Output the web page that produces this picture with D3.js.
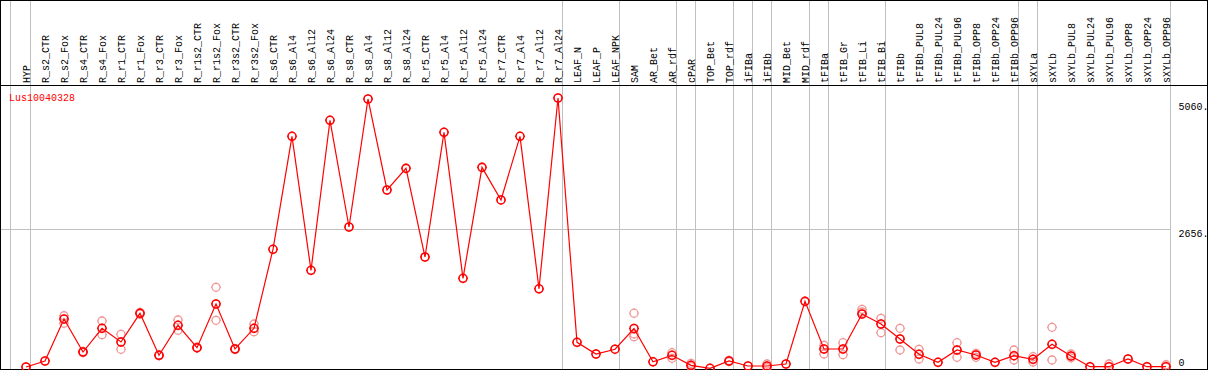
<!DOCTYPE html>
<html>
<head>
<meta charset="utf-8">
<script src="https://cdn.jsdelivr.net/npm/d3@7"></script>
<style>
  html, body { margin: 0; padding: 0; background: #fff; }
  svg { display: block; }
  text { font-family: "Liberation Mono", "DejaVu Sans Mono", monospace; font-size: 10px; }
</style>
</head>
<body>
<svg id="chart" width="1209" height="370"></svg>
<script>
const title = "Lus10040328";
const categories = [
  "HYP",
  "R_s2_CTR","R_s2_Fox","R_s4_CTR","R_s4_Fox","R_r1_CTR","R_r1_Fox","R_r3_CTR","R_r3_Fox",
  "R_r1s2_CTR","R_r1s2_Fox","R_r3s2_CTR","R_r3s2_Fox",
  "R_s6_CTR","R_s6_Al4","R_s6_Al12","R_s6_Al24","R_s8_CTR","R_s8_Al4","R_s8_Al12","R_s8_Al24",
  "R_r5_CTR","R_r5_Al4","R_r5_Al12","R_r5_Al24","R_r7_CTR","R_r7_Al4","R_r7_Al12","R_r7_Al24",
  "LEAF_N","LEAF_P","LEAF_NPK",
  "SAM","AR_Bet","AR_rdf","cPAR","TOP_Bet","TOP_rdf","iFIBa","iFIBb","MID_Bet","MID_rdf",
  "tFIBa","tFIB_Gr","tFIB_Li","tFIB_Bi",
  "tFIBb","tFIBb_PUL8","tFIBb_PUL24","tFIBb_PUL96","tFIBb_OPP8","tFIBb_OPP24","tFIBb_OPP96",
  "sXYLa",
  "sXYLb","sXYLb_PUL8","sXYLb_PUL24","sXYLb_PUL96","sXYLb_OPP8","sXYLb_OPP24","sXYLb_OPP96"
];
const means = [
  25,
  139, 938, 310, 761, 500, 1046, 247, 818,
  392, 1223, 367, 761,
  2264, 4413, 1864, 4718, 2688, 5123, 3392, 3804,
  2117, 4489, 1712, 3823, 3202, 4413, 1512, 5142,
  495, 272, 363,
  757, 124, 247, 57, 0, 139, 44, 44, 82, 1274,
  367, 367, 1033, 843,
  557, 266, 114, 348, 253, 114, 240,
  171,
  457, 234, 30, 30, 177, 30, 30
];
const replicates = [
  [],
  [], [1000, 856], [300, 320], [900, 639], [647, 361], [1030, 1065], [240, 255], [919, 723],
  [385, 400], [1541, 913], [360, 375], [843, 696],
  [], [], [], [], [], [], [], [],
  [], [], [], [], [], [], [], [],
  [], [], [],
  [1048, 652, 601], [], [297, 190], [95, 30], [], [150, 128], [], [82, 10], [], [],
  [437, 272], [487, 259], [1122, 1071], [951, 677],
  [761, 348], [361, 177], [], [487, 209], [285, 209], [], [348, 158],
  [221, 120],
  [780, 158], [272, 200], [], [82], [], [], [68]
];
// a grey separator is drawn after each of these columns
const groupEnds = ["HYP","R_r7_Al24","LEAF_NPK","AR_rdf","cPAR","TOP_rdf","iFIBa","iFIBb",
  "MID_rdf","tFIBa","tFIB_Bi","tFIBb_OPP96","sXYLa","sXYLb_OPP96"];
const yTicks = [0, 2656, 5060];
const yTickLabels = ["0", "2656.", "5060."];

const W = 1209, H = 370;
const svg = d3.select("#chart");
const x = d3.scalePoint().domain(categories).range([26, 1166]);
const y = d3.scaleLinear().domain([0, 5060]).range([368.3, 102.3]);

const headerY = 85.5, bottomY = 368.5;

// grey separators
const grid = svg.append("g").attr("stroke", "#c0c0c0").attr("stroke-width", 1).attr("shape-rendering", "crispEdges");
grid.append("line").attr("x1", x(categories[0]) - 16 + 0.5).attr("x2", x(categories[0]) - 16 + 0.5)
  .attr("y1", 0).attr("y2", bottomY);
grid.selectAll("line.sep").data(groupEnds).join("line").attr("class", "sep")
  .attr("x1", d => Math.round(x(d) + 4) + 0.5).attr("x2", d => Math.round(x(d) + 4) + 0.5)
  .attr("y1", 0).attr("y2", bottomY);
// horizontal grid for inner ticks
const xEnd = Math.round(x(categories[categories.length - 1]) + 4) + 0.5;
grid.selectAll("line.h").data(yTicks.filter(v => v > 0 && v < 5060)).join("line").attr("class", "h")
  .attr("x1", 0).attr("x2", xEnd)
  .attr("y1", d => Math.round(y(d)) + 0.5).attr("y2", d => Math.round(y(d)) + 0.5);

// column labels
svg.append("g").selectAll("text").data(categories).join("text")
  .attr("transform", d => `translate(${x(d) + 4},83) rotate(-90)`)
  .attr("text-anchor", "start")
  .attr("fill", "#000")
  .text(d => d);

// frame
const frame = svg.append("g").attr("stroke", "#000").attr("stroke-width", 1).attr("shape-rendering", "crispEdges").attr("fill", "none");
frame.append("line").attr("x1", 0).attr("x2", 1207).attr("y1", 0.5).attr("y2", 0.5);
frame.append("line").attr("x1", 0.5).attr("x2", 0.5).attr("y1", 0).attr("y2", bottomY);
frame.append("line").attr("x1", 1207.5).attr("x2", 1207.5).attr("y1", 0).attr("y2", bottomY + 1);
frame.append("line").attr("x1", 0).attr("x2", 1208).attr("y1", headerY).attr("y2", headerY);
frame.append("line").attr("x1", 0).attr("x2", 1208).attr("y1", bottomY + 0.5).attr("y2", bottomY + 0.5);

// title
svg.append("text").attr("x", 9).attr("y", 101).attr("fill", "#ff0000").text(title);

// y tick labels
svg.append("g").selectAll("text").data(yTicks).join("text")
  .attr("x", 1178.5)
  .attr("y", d => Math.min(y(d) + 8, 366))
  .attr("fill", "#000")
  .text((d, i) => yTickLabels[i]);

// marker (circle with tiny ticks)
function marker(g, color, sw) {
  g.append("circle").attr("r", 4).attr("fill", "none").attr("stroke", color).attr("stroke-width", sw);
  g.append("path").attr("d", "M0,-5V-4M0,4V5M-5,0H-4M4,0H5")
    .attr("stroke", color).attr("stroke-width", 1);
}

// replicates
const repData = [];
categories.forEach((c, i) => replicates[i].forEach(v => repData.push({c, v})));
svg.append("g").selectAll("g").data(repData).join("g")
  .attr("transform", d => `translate(${x(d.c)},${y(d.v)})`)
  .each(function() { marker(d3.select(this), "#f09696", 1.3); });

// mean line
const line = d3.line().x((d, i) => x(categories[i])).y(d => y(d));
svg.append("path").datum(means).attr("d", line)
  .attr("fill", "none").attr("stroke", "#ff0000").attr("stroke-width", 1.2);

// mean markers
svg.append("g").selectAll("g").data(means).join("g")
  .attr("transform", (d, i) => `translate(${x(categories[i])},${y(d)})`)
  .each(function() { marker(d3.select(this), "#ff0000", 1.6); });
</script>
</body>
</html>
